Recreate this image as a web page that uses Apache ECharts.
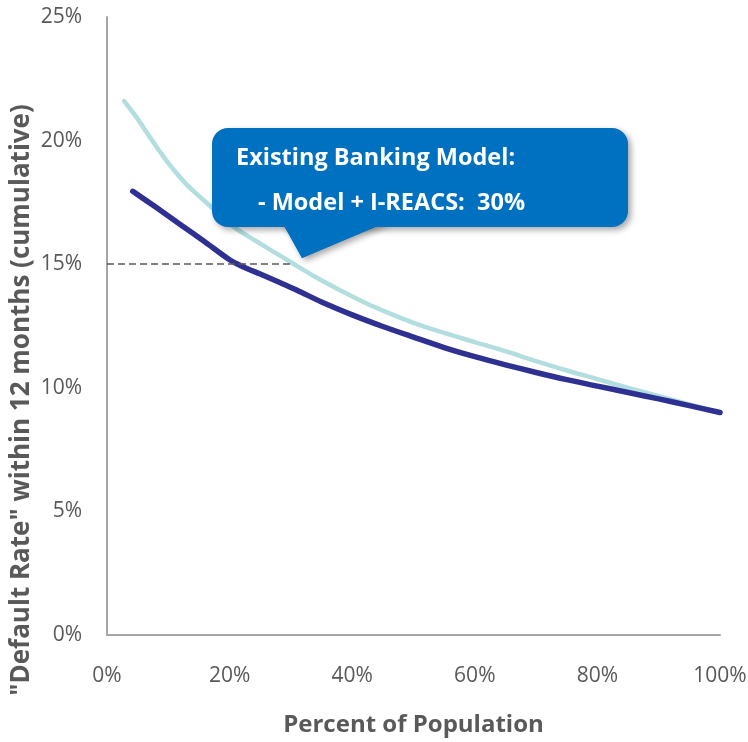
<!DOCTYPE html>
<html>
<head>
<meta charset="utf-8">
<script src="https://cdn.jsdelivr.net/npm/echarts@6/dist/echarts.min.js"></script>
<style>
html,body{margin:0;padding:0;background:#fff;}
#main{width:748px;height:742px;}
</style>
</head>
<body>
<div id="main"></div>
<script>
// Data (percent of population, default rate %)
var existingX = [2.8, 5, 7, 9, 11, 13, 15, 17, 19, 21, 24, 27, 30, 34, 38, 42, 46, 50, 55, 60, 65, 70, 75, 80, 85, 90, 95, 100];
var existingY = [21.6, 20.88, 20.14, 19.42, 18.78, 18.22, 17.76, 17.32, 16.88, 16.45, 15.98, 15.53, 15.08, 14.48, 13.95, 13.45, 13.02, 12.63, 12.22, 11.85, 11.48, 11.08, 10.7, 10.35, 10.0, 9.66, 9.33, 9.0];
var ireacsX = [4.2, 8, 12, 16, 20, 22, 25, 28, 31, 35, 40, 45, 50, 55, 60, 65, 70, 75, 80, 85, 90, 95, 100];
var ireacsY = [17.95, 17.3, 16.6, 15.9, 15.18, 14.92, 14.6, 14.28, 13.95, 13.47, 12.95, 12.48, 12.05, 11.63, 11.26, 10.93, 10.62, 10.33, 10.07, 9.81, 9.55, 9.28, 9.0];
var xTicks = [0, 20, 40, 60, 80, 100];
var yTicks = [0, 5, 10, 15, 20, 25];
var refLevel = 15;
var refEndX = 30;
var xTitle = 'Percent of Population';
var yTitle = '"Default Rate" within 12 months (cumulative)';
var calloutLine1 = 'Existing Banking Model:';
var calloutLine2 = '- Model + I-REACS:  30%';

function pairs(xs, ys){ return xs.map(function(x,i){ return [x, ys[i]]; }); }

var chart = echarts.init(document.getElementById('main'));
var fontFam = '"Open Sans", "Noto Sans", sans-serif';
chart.setOption({
  animation: false,
  grid: {left: 107, right: 28, top: 17, bottom: 107, outerBoundsMode: 'none', containLabel: false},
  xAxis: {
    type: 'value', min: 0, max: 100, interval: 20,
    name: xTitle, nameLocation: 'middle', nameGap: 78,
    nameTextStyle: {color: '#595959', fontSize: 24, fontWeight: 'bold', fontFamily: fontFam},
    axisLine: {show: true, lineStyle: {color: '#a6a6a6', width: 2}},
    axisTick: {show: false},
    splitLine: {show: false},
    axisLabel: {color: '#595959', fontSize: 21, fontFamily: fontFam, margin: 31,
      formatter: function(v){ return v + '%'; }}
  },
  yAxis: {
    type: 'value', min: 0, max: 25, interval: 5,
    axisLine: {show: true, lineStyle: {color: '#a6a6a6', width: 2}},
    axisTick: {show: false},
    splitLine: {show: false},
    axisLabel: {color: '#595959', fontSize: 21, fontFamily: fontFam, margin: 25,
      formatter: function(v){ return v + '%'; }}
  },
  series: [
    {
      name: 'Existing Banking Model', type: 'line', smooth: 0.3, symbol: 'none',
      data: pairs(existingX, existingY),
      lineStyle: {color: '#b3dedf', width: 4.5, cap: 'round', join: 'round'},
      z: 2,
      markLine: {
        silent: true, symbol: 'none', label: {show: false},
        lineStyle: {color: '#595959', type: [7, 4], width: 1.5},
        data: [[{coord: [0, refLevel]}, {coord: [refEndX, refLevel]}]]
      }
    },
    {
      name: 'Model + I-REACS', type: 'line', smooth: 0.3, symbol: 'none',
      data: pairs(ireacsX, ireacsY),
      lineStyle: {color: '#2e3192', width: 5.5, cap: 'round', join: 'round'},
      z: 3
    }
  ]
});

var pointer = [[282, 222], [387, 222], [302, 258]];
var boxFill = '#0070c0';
var shadow = {shadowBlur: 6, shadowOffsetX: 3, shadowOffsetY: 3, shadowColor: 'rgba(0,0,0,0.35)'};
chart.setOption({
  graphic: [
    {
      type: 'polygon', z: 100,
      shape: {points: pointer},
      style: Object.assign({fill: boxFill}, shadow)
    },
    {
      type: 'rect', z: 101,
      shape: {x: 212, y: 128, width: 416, height: 99, r: 16},
      style: Object.assign({fill: boxFill}, shadow)
    },
    {
      type: 'polygon', z: 102,
      shape: {points: pointer},
      style: {fill: boxFill}
    },
    {
      type: 'text', z: 103, x: 236, y: 158,
      style: {text: calloutLine1, fill: '#ffffff', font: 'bold 23.5px ' + fontFam, textVerticalAlign: 'middle'}
    },
    {
      type: 'text', z: 103, x: 258, y: 203,
      style: {text: calloutLine2, fill: '#ffffff', font: 'bold 23.5px ' + fontFam, textVerticalAlign: 'middle'}
    },
    {
      type: 'text', z: 50, x: 22, y: 400, rotation: Math.PI / 2,
      style: {text: yTitle, fill: '#595959', font: 'bold 26px ' + fontFam, textAlign: 'center', textVerticalAlign: 'middle'}
    }
  ]
});
</script>
</body>
</html>
